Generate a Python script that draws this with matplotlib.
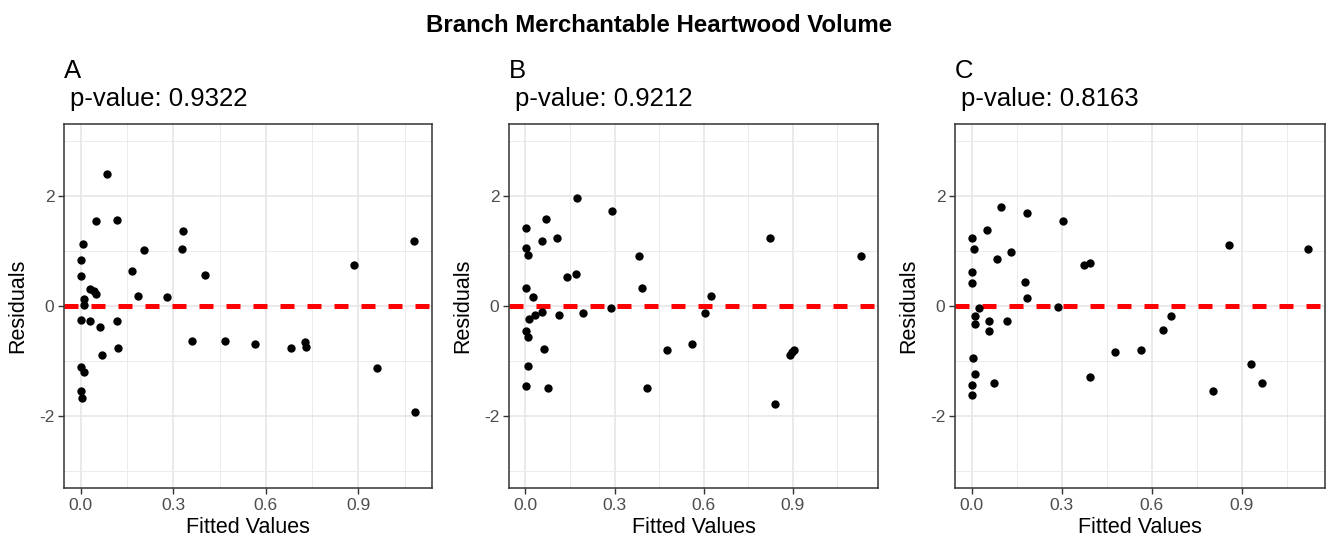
import matplotlib
matplotlib.use('Agg')
import matplotlib.pyplot as plt
import numpy as np

plt.rcParams['font.family'] = ['Liberation Sans', 'DejaVu Sans']
plt.rcParams['axes.unicode_minus'] = False

TITLE = 'Branch Merchantable Heartwood Volume'
panel_labels = ['A', 'B', 'C']
p_values = ['0.9322', '0.9212', '0.8163']

# panel A: fitted values / residuals
fitted_a = [0.085, 0.049, 0.117, 0.332, 0.008, 1.079, 0.000, 0.205, 0.327, 0.886,
            0.002, 0.402, 0.167, 0.029, 0.042, 0.050, 0.185, 0.281, 0.009, 0.010,
            0.002, 0.029, 0.117, 0.061, 0.122, 0.070, 0.362, 0.467, 0.564, 0.680,
            0.726, 0.730, 0.959, 0.001, 0.010, 0.000, 0.004, 1.084]
resid_a = [2.39, 1.55, 1.56, 1.36, 1.13, 1.17, 0.84, 1.02, 1.04, 0.75,
           0.54, 0.57, 0.64, 0.31, 0.27, 0.22, 0.19, 0.16, 0.13, 0.01,
           -0.26, -0.27, -0.28, -0.38, -0.76, -0.89, -0.63, -0.63, -0.68, -0.77,
           -0.66, -0.75, -1.12, -1.11, -1.19, -1.55, -1.66, -1.92]

# panel B
fitted_b = [0.172, 0.291, 0.070, 0.001, 0.055, 0.107, 0.825, 0.002, 0.007, 0.382,
            1.131, 0.139, 0.170, 0.391, 0.001, 0.025, 0.626, 0.288, 0.057, 0.031,
            0.012, 0.113, 0.193, 0.604, 0.001, 0.008, 0.062, 0.476, 0.562, 0.906,
            0.892, 0.008, 0.001, 0.076, 0.409, 0.840, 0.899]
resid_b = [1.95, 1.73, 1.57, 1.41, 1.18, 1.23, 1.24, 1.05, 0.93, 0.90,
           0.90, 0.52, 0.58, 0.33, 0.33, 0.16, 0.18, -0.04, -0.11, -0.16,
           -0.23, -0.16, -0.13, -0.13, -0.45, -0.56, -0.78, -0.80, -0.69, -0.79,
           -0.89, -1.09, -1.45, -1.48, -1.48, -1.77, -0.84]

# panel C
fitted_c = [0.098, 0.183, 0.304, 0.051, 0.000, 0.007, 0.857, 1.122, 0.130, 0.085,
            0.373, 0.394, 0.000, 0.000, 0.178, 0.184, 0.025, 0.287, 0.010, 0.009,
            0.058, 0.116, 0.058, 0.665, 0.638, 0.477, 0.565, 0.003, 0.009, 0.073,
            0.394, 0.932, 0.968, 0.806, 0.000, 0.000]
resid_c = [1.80, 1.69, 1.54, 1.38, 1.24, 1.04, 1.10, 1.03, 0.98, 0.86,
           0.75, 0.78, 0.61, 0.42, 0.43, 0.14, -0.04, -0.01, -0.18, -0.33,
           -0.27, -0.27, -0.45, -0.19, -0.44, -0.84, -0.79, -0.95, -1.23, -1.39,
           -1.28, -1.05, -1.40, -1.54, -1.43, -1.61]

fitted = [fitted_a, fitted_b, fitted_c]
resid = [resid_a, resid_b, resid_c]

W, H = 1328, 551
fig = plt.figure(figsize=(W / 100, H / 100), dpi=100)

# axes boxes in pixels: left, right, top, bottom
boxes = [(64, 432, 124, 488), (509, 878, 124, 488), (955, 1325, 124, 488)]

for i, (l, r, t, b) in enumerate(boxes):
    ax = fig.add_axes([l / W, 1 - b / H, (r - l) / W, (b - t) / H])
    x = np.array(fitted[i])
    y = np.array(resid[i])
    span = x.max() - x.min()
    ax.set_xlim(x.min() - 0.05 * span, x.max() + 0.05 * span)
    ax.set_ylim(-3.3, 3.3)

    ax.set_xticks([0, 0.3, 0.6, 0.9])
    ax.set_xticklabels(['0.0', '0.3', '0.6', '0.9'])
    ax.set_xticks([0.15, 0.45, 0.75, 1.05], minor=True)
    ax.set_yticks([-2, 0, 2])
    ax.set_yticks([-3, -1, 1, 3], minor=True)
    ax.grid(which='major', color='#E6E6E6', linewidth=1.2, zorder=0)
    ax.grid(which='minor', color='#EBEBEB', linewidth=0.7, zorder=0)
    ax.set_axisbelow(True)

    ax.axhline(0, color='#FF0000', linewidth=3.6, linestyle=(0, (2.8, 2.6)), zorder=2)
    ax.scatter(x, y, s=36, color='black', zorder=3, linewidths=0)

    for sp in ax.spines.values():
        sp.set_color('#333333')
        sp.set_linewidth(1.1)
    ax.tick_params(which='major', length=4, width=1, color='#333333',
                   labelcolor='#4D4D4D', labelsize=12.5, pad=3)
    ax.tick_params(which='minor', length=0)

    ax.set_xlabel('Fitted Values', fontsize=15.5, labelpad=3)
    ax.set_ylabel('Residuals', fontsize=15.5, labelpad=8)

    ax.text(0.0, 1.126, panel_labels[i], transform=ax.transAxes,
            fontsize=18.5, ha='left', va='baseline')
    ax.text(0.016, 1.049, 'p-value: ' + p_values[i], transform=ax.transAxes,
            fontsize=18.5, ha='left', va='baseline')

fig.text(0.496, 1 - 32 / H, TITLE, fontsize=17.3, fontweight='bold',
         ha='center', va='baseline')

fig.savefig('out.png', dpi=100)
